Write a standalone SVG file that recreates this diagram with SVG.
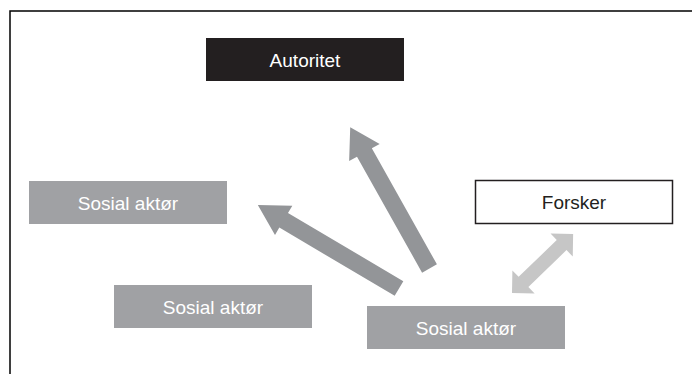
<svg xmlns="http://www.w3.org/2000/svg" width="692" height="374" viewBox="0 0 692 374">
<style>
.t{font-family:"Liberation Sans",Arial,sans-serif;font-size:19px;text-anchor:middle}
.w{fill:#ffffff}
.g{fill:#a0a1a4}
.arr{fill:#939598}
.lt{fill:#c6c6c6}
</style>
<rect x="10" y="11" width="700" height="400" fill="#ffffff" stroke="#000000" stroke-width="1.5"/>
<g id="connectors">
<polygon class="arr" transform="translate(429.5,268.5) rotate(240.7)" points="0,-8.5 133,-8.5 133,-17.5 162,0 133,17.5 133,8.5 0,8.5"/>
<polygon class="arr" transform="translate(399,288.5) rotate(210.6)" points="0,-8.5 134,-8.5 134,-17 164,0 134,17 134,8.5 0,8.5"/>
<polygon class="lt" transform="translate(512,293) rotate(-44)" points="0,0 16,-16 16,-7 69,-7 69,-16 85,0 69,16 69,7 16,7 16,16"/>
</g>
<g id="autoritet">
<rect x="206" y="38" width="198" height="43" fill="#231f20"/>
<text class="t w" x="305" y="66.5">Autoritet</text>
</g>
<g id="sosial1">
<rect class="g" x="29" y="181" width="198" height="43"/>
<text class="t w" x="128" y="209.5">Sosial aktør</text>
</g>
<g id="sosial2">
<rect class="g" x="114" y="285" width="198" height="43"/>
<text class="t w" x="213" y="313.5">Sosial aktør</text>
</g>
<g id="sosial3">
<rect class="g" x="367" y="306" width="198" height="43"/>
<text class="t w" x="466" y="334.5">Sosial aktør</text>
</g>
<g id="forsker">
<rect x="475.5" y="180.5" width="197" height="43" fill="#ffffff" stroke="#231f20" stroke-width="1.5"/>
<text class="t" x="574" y="208.5" fill="#231f20">Forsker</text>
</g>
</svg>
